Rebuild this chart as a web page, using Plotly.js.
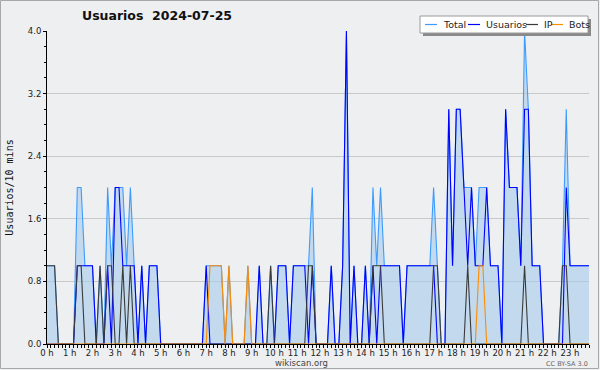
<!DOCTYPE html>
<html><head><meta charset="utf-8">
<script src="https://cdn.plot.ly/plotly-3.0.1.min.js"></script>
<style>html,body{margin:0;padding:0;background:#eeeff1;}#chart{width:600px;height:370px;}</style>
</head><body><div id="chart"></div>
<script>
// values per 10-minute slot, 2024-07-25 (144 slots)
const total = [
 1,1,1,0,0,0,0,0, 2,2,1,1,1,0,1,0, 2,1,2,2,2,1,2,1, 0,1,0,1,1,1,0,0,
 0,0,0,0,0,0,0,0, 0,0,1,1,1,1,1,0, 1,0,0,0,0,1,0,0, 1,0,0,1,0,1,1,1,
 0,1,1,1,1,1,2,0, 0,0,0,1,0,0,1,4, 0,1,0,0,1,0,2,1, 2,1,1,1,1,1,0,1,
 1,1,1,1,1,1,2,1, 0,0,3,1,3,3,2,2, 2,1,2,2,2,1,1,1, 0,3,2,2,2,1,4,3,
 1,1,1,0,0,0,0,0, 1,3,1,1,1,1,1,1];
const usuarios = [
 0,0,0,0,0,0,0,0, 1,1,1,1,1,0,0,0, 1,0,2,2,1,1,1,1, 0,1,0,1,1,1,0,0,
 0,0,0,0,0,0,0,0, 0,0,1,0,0,0,0,0, 0,0,0,0,0,0,0,0, 1,0,0,0,0,1,1,1,
 0,1,1,1,1,0,1,0, 0,0,0,1,0,0,1,4, 0,1,0,0,1,0,1,0, 1,1,1,1,1,1,0,1,
 1,1,1,1,1,1,1,0, 0,0,3,1,3,3,2,1, 2,1,1,1,2,1,1,1, 0,3,2,2,2,1,3,3,
 1,1,1,0,0,0,0,0, 0,2,1,1,1,1,1,1];
const ip = [
 1,1,1,0,0,0,0,0, 1,1,0,0,0,0,1,0, 1,1,0,0,1,0,1,0, 0,0,0,0,0,0,0,0,
 0,0,0,0,0,0,0,0, 0,0,0,0,0,0,0,0, 0,0,0,0,0,0,0,0, 0,0,0,1,0,0,0,0,
 0,0,0,0,0,1,1,0, 0,0,0,0,0,0,0,0, 0,0,0,0,0,0,1,1, 1,0,0,0,0,0,0,0,
 0,0,0,0,0,0,1,1, 0,0,0,0,0,0,0,1, 0,0,0,0,0,0,0,0, 0,0,0,0,0,0,1,0,
 0,0,0,0,0,0,0,0, 1,1,0,0,0,0,0,0];
const bots = [
 0,0,0,0,0,0,0,0, 0,0,0,0,0,0,0,0, 0,0,0,0,0,0,0,0, 0,0,0,0,0,0,0,0,
 0,0,0,0,0,0,0,0, 0,0,0,1,1,1,1,0, 1,0,0,0,0,1,0,0, 0,0,0,0,0,0,0,0,
 0,0,0,0,0,0,0,0, 0,0,0,0,0,0,0,0, 0,0,0,0,0,0,0,0, 0,0,0,0,0,0,0,0,
 0,0,0,0,0,0,0,0, 0,0,0,0,0,0,0,0, 0,0,1,1,0,0,0,0, 0,0,0,0,0,0,0,0,
 0,0,0,0,0,0,0,0, 0,0,0,0,0,0,0,0];
const seriesNames = ['Total','Usuarios','IP','Bots'];
const seriesColors = ['#3d9bff','#0000ff','#3a3a3a','#ff8c00'];
const hourLabels = ['0 h','1 h','2 h','3 h','4 h','5 h','6 h','7 h','8 h','9 h','10 h','11 h',
 '12 h','13 h','14 h','15 h','16 h','17 h','18 h','19 h','20 h','21 h','22 h','23 h'];
const yTicks = [0,0.8,1.6,2.4,3.2,4.0];
const titleText = 'Usuarios\u00a0\u00a02024-07-25';
const yTitle = 'Usuarios/10 mins';

const slots = total.map((_, i) => i);            // slot index (10 min each)
const hourTickVals = hourLabels.map((_, h) => h * 6);

const L = 47, R = 589, T = 31, B = 344;
const W = 600, H = 370;
const px = x => (x - L) / (R - L);
const py = y => (B - y) / (B - T);

const data = [total, usuarios, ip, bots].map((vals, k) => ({
  x: slots, y: vals, type: 'scatter', mode: 'lines', name: seriesNames[k],
  line: {color: seriesColors[k], width: 1.1},
  fill: k === 0 ? 'tozeroy' : 'none',
  fillcolor: 'rgba(160,200,235,0.55)',
  hoverinfo: 'skip', showlegend: false
}));

// legend (drawn as box + samples + labels)
const legItems = [{lx:425, tx:441}, {lx:468, tx:484}, {lx:526, tx:542}, {lx:551, tx:567}];
const shapes = [
  {type:'rect', xref:'paper', yref:'paper', x0:px(423), x1:px(591), y0:py(19), y1:py(36),
   fillcolor:'#8a8a8a', line:{width:0}, layer:'above'},
  {type:'rect', xref:'paper', yref:'paper', x0:px(420), x1:px(588), y0:py(16), y1:py(33),
   fillcolor:'#ffffff', line:{color:'#9a9a9a', width:1}, layer:'above'},
  {type:'rect', xref:'paper', yref:'paper', x0:px(0.5), x1:px(598.5), y0:py(0.5), y1:py(368.5),
   fillcolor:'rgba(0,0,0,0)', line:{color:'#a8a8a8', width:1}, layer:'above'}
];
const annotations = [];
legItems.forEach((it, k) => {
  shapes.push({type:'line', xref:'paper', yref:'paper', x0:px(it.lx), x1:px(it.lx+12),
    y0:py(24.5), y1:py(24.5), line:{color:seriesColors[k], width:1.2}, layer:'above'});
  annotations.push({xref:'paper', yref:'paper', x:px(it.tx), y:py(24.5), xanchor:'left', yanchor:'middle',
    text:seriesNames[k], showarrow:false, font:{family:'DejaVu Sans', size:9.5, color:'#222'}});
});
annotations.push({xref:'paper', yref:'paper', x:px(301), y:py(362.5), xanchor:'center', yanchor:'middle',
  text:'wikiscan.org', showarrow:false, font:{family:'DejaVu Sans', size:8.5, color:'#444'}});
annotations.push({xref:'paper', yref:'paper', x:px(590), y:py(363.5), xanchor:'right', yanchor:'middle',
  text:'CC BY-SA 3.0', showarrow:false, font:{family:'DejaVu Sans', size:6.5, color:'#666'}});

const layout = {
  width: W, height: H,
  margin: {l: L, r: W - R, t: T, b: H - B, pad: 0},
  paper_bgcolor: '#eeeff1', plot_bgcolor: '#eeeff1',
  showlegend: false,
  title: {text: '<b>' + titleText + '</b>', x: 82 / W, xanchor: 'left', xref: 'container',
          y: 1 - 16 / H, yanchor: 'middle', yref: 'container',
          font: {family: 'DejaVu Sans', size: 12.5, color: '#111'}},
  xaxis: {range: [0, 143], tickvals: hourTickVals, ticktext: hourLabels, ticks: 'outside', ticklen: 3,
          tickcolor: '#000', tickwidth: 1, showgrid: false, zeroline: false, showline: true,
          linecolor: '#000', linewidth: 1, tickfont: {family: 'DejaVu Sans', size: 8.5, color: '#222'},
          ticklabelstandoff: -2,
          minor: {dtick: 1, tick0: 0, ticks: 'outside', ticklen: 3, tickcolor: '#000', showgrid: false},
          fixedrange: true},
  yaxis: {range: [0, 4], tickvals: yTicks, ticktext: yTicks.map(v => v.toFixed(1)), ticks: 'outside',
          ticklen: 3, tickcolor: '#000', showgrid: true, gridcolor: '#c9c9c9', gridwidth: 1,
          zeroline: false, showline: true, linecolor: '#000', linewidth: 1,
          tickfont: {family: 'DejaVu Sans', size: 8.5, color: '#222'},
          minor: {dtick: 0.2, tick0: 0, ticks: 'outside', ticklen: 2, tickcolor: '#000', showgrid: false},
          title: {text: yTitle, standoff: 12, font: {family: 'DejaVu Sans Mono', size: 10, color: '#111'}},
          fixedrange: true},
  shapes: shapes, annotations: annotations
};
Plotly.newPlot('chart', data, layout, {displayModeBar: false, staticPlot: true});
</script></body></html>
